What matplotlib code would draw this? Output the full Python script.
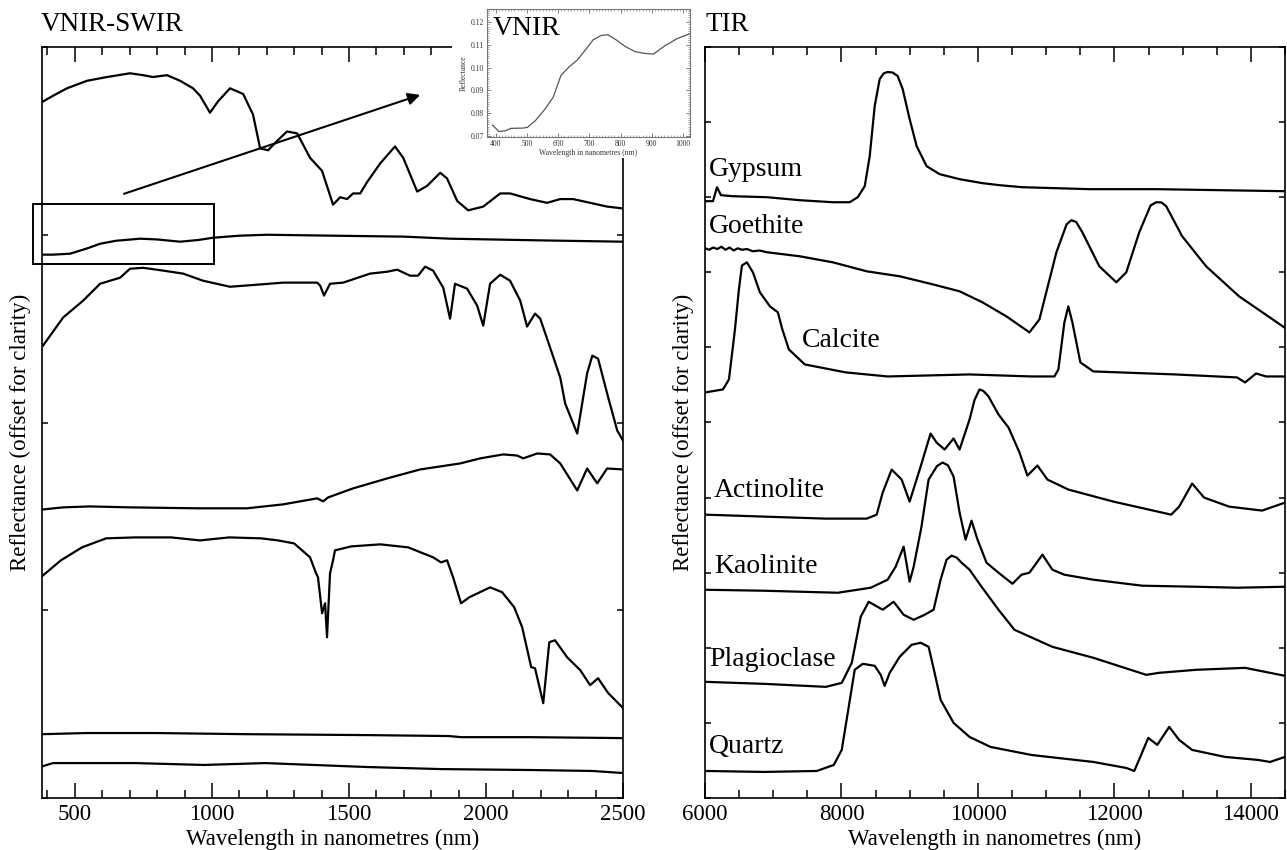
import matplotlib
matplotlib.use('Agg')
import matplotlib.pyplot as plt
from matplotlib.ticker import MultipleLocator, FixedLocator, FormatStrFormatter
from matplotlib.patches import Rectangle

plt.rcParams['font.family'] = ['Liberation Serif', 'DejaVu Serif']

# ---------------- data: VNIR-SWIR panel (wavelength nm, offset reflectance) ----------------
swir1_wl = [384, 420, 471, 544, 617, 701, 749, 785, 836, 884, 931, 957, 993, 1022, 1066, 1114, 1150, 1176,
            1205, 1238, 1274, 1311, 1358, 1402, 1442, 1468, 1493, 1515, 1541, 1566, 1614, 1668, 1698, 1749,
            1785, 1833, 1858, 1895, 1935, 1990, 2052, 2088, 2161, 2223, 2271, 2318, 2380, 2442, 2500]
swir1_r = [3.71, 3.74, 3.78, 3.82, 3.84, 3.86, 3.85, 3.84, 3.85, 3.82, 3.78, 3.74, 3.65, 3.71, 3.78, 3.75,
           3.64, 3.46, 3.45, 3.50, 3.55, 3.54, 3.41, 3.34, 3.16, 3.20, 3.19, 3.22, 3.22, 3.28, 3.38, 3.47,
           3.41, 3.23, 3.26, 3.33, 3.30, 3.18, 3.13, 3.15, 3.22, 3.22, 3.19, 3.17, 3.19, 3.19, 3.17, 3.15, 3.14]

swir2_wl = [384, 420, 482, 540, 592, 650, 738, 800, 884, 950, 1004, 1100, 1201, 1442, 1700, 1869, 2200, 2500]
swir2_r = [2.894, 2.894, 2.899, 2.925, 2.952, 2.968, 2.979, 2.975, 2.963, 2.972, 2.984, 2.995, 3.0, 2.995,
           2.99, 2.979, 2.97, 2.963]

swir3_wl = [384, 457, 530, 592, 628, 665, 701, 749, 822, 895, 968, 1066, 1165, 1260, 1384, 1395, 1409, 1431,
            1479, 1577, 1639, 1676, 1723, 1752, 1778, 1807, 1844, 1869, 1887, 1931, 1968, 1990, 2015, 2052,
            2088, 2125, 2150, 2179, 2198, 2234, 2271, 2289, 2333, 2369, 2388, 2409, 2446, 2479, 2500]
swir3_r = [2.410, 2.559, 2.649, 2.739, 2.755, 2.771, 2.819, 2.824, 2.809, 2.793, 2.755, 2.723, 2.734, 2.745,
           2.745, 2.729, 2.676, 2.739, 2.745, 2.793, 2.803, 2.814, 2.782, 2.782, 2.830, 2.809, 2.718, 2.553,
           2.739, 2.713, 2.622, 2.516, 2.739, 2.787, 2.755, 2.649, 2.511, 2.580, 2.553, 2.399, 2.239, 2.101,
           1.941, 2.261, 2.356, 2.340, 2.133, 1.957, 1.904]

swir4_wl = [384, 457, 555, 701, 946, 1128, 1260, 1384, 1406, 1424, 1515, 1639, 1760, 1906, 1979, 2063, 2114,
            2136, 2187, 2234, 2271, 2333, 2369, 2406, 2442, 2500]
swir4_r = [1.537, 1.548, 1.553, 1.548, 1.543, 1.543, 1.564, 1.596, 1.580, 1.601, 1.649, 1.702, 1.750, 1.782,
           1.809, 1.830, 1.824, 1.809, 1.835, 1.830, 1.782, 1.638, 1.755, 1.676, 1.755, 1.750]

swir5_wl = [384, 449, 526, 614, 719, 851, 957, 1063, 1179, 1241, 1300, 1358, 1380, 1387, 1402, 1413, 1420,
            1431, 1442, 1449, 1508, 1614, 1716, 1807, 1836, 1858, 1880, 1909, 1939, 2015, 2059, 2103, 2132,
            2165, 2179, 2209, 2231, 2252, 2296, 2344, 2380, 2409, 2446, 2500]
swir5_r = [1.186, 1.266, 1.335, 1.383, 1.388, 1.388, 1.372, 1.388, 1.383, 1.372, 1.356, 1.282, 1.197, 1.176,
           0.984, 1.037, 0.856, 1.197, 1.266, 1.319, 1.340, 1.351, 1.335, 1.282, 1.255, 1.266, 1.176, 1.037,
           1.069, 1.122, 1.096, 1.016, 0.910, 0.697, 0.691, 0.505, 0.830, 0.840, 0.750, 0.681, 0.601, 0.638,
           0.559, 0.479]

swir6_wl = [384, 541, 793, 1121, 1566, 1865, 1909, 2165, 2500]
swir6_r = [0.340, 0.346, 0.346, 0.340, 0.335, 0.330, 0.324, 0.324, 0.319]

swir7_wl = [384, 420, 719, 971, 1194, 1566, 1836, 2165, 2388, 2500]
swir7_r = [0.170, 0.186, 0.186, 0.176, 0.186, 0.165, 0.154, 0.149, 0.144, 0.133]

# ---------------- data: VNIR inset ----------------
vnir_wl = [390, 410, 430, 449, 486, 501, 527, 558, 584, 609, 635, 661, 687, 712, 738, 759, 785, 815, 846,
           877, 905, 942, 981, 1022]
vnir_r = [0.0747, 0.0719, 0.0722, 0.0733, 0.0734, 0.0737, 0.0767, 0.0818, 0.0870, 0.0966, 0.1003, 0.1033,
          0.1077, 0.1122, 0.1141, 0.1144, 0.1122, 0.1092, 0.1070, 0.1062, 0.1059, 0.1096, 0.1127, 0.1149]

# ---------------- data: TIR panel ----------------
tir_names = ['Gypsum', 'Goethite', 'Calcite', 'Actinolite', 'Kaolinite', 'Plagioclase', 'Quartz']
tir_label_wl = [6060, 6060, 7419, 6130, 6130, 6060, 6060]
tir_label_y = [8.28, 7.52, 6.0, 4.01, 3.0, 1.76, 0.6]

gyp_wl = [6000, 6117, 6176, 6234, 6410, 6907, 7390, 7873, 8121, 8238, 8341, 8414, 8487, 8560, 8620, 8677,
          8750, 8824, 8897, 8999, 9102, 9248, 9438, 9731, 10067, 10316, 10652, 11633, 12613, 13578, 14500]
gyp_r = [7.947, 7.947, 8.133, 8.027, 8.013, 8.0, 7.96, 7.933, 7.933, 8.0, 8.147, 8.547, 9.213, 9.573, 9.65,
         9.667, 9.66, 9.613, 9.44, 9.04, 8.68, 8.413, 8.307, 8.24, 8.187, 8.16, 8.133, 8.107, 8.107, 8.093, 8.08]

goe_wl = [6000, 6060, 6120, 6180, 6240, 6300, 6360, 6420, 6480, 6540, 6614, 6700, 6800, 6907, 7390, 7873,
          8371, 8853, 9336, 9731, 10067, 10316, 10418, 10755, 10901, 11150, 11300, 11369, 11440, 11530, 11779,
          12028, 12174, 12364, 12530, 12613, 12690, 12759, 12993, 13344, 13827, 14500]
goe_r = [7.32, 7.30, 7.33, 7.31, 7.34, 7.30, 7.33, 7.29, 7.32, 7.30, 7.31, 7.28, 7.29, 7.267, 7.213, 7.133,
         7.013, 6.947, 6.84, 6.747, 6.6, 6.467, 6.413, 6.2, 6.373, 7.267, 7.64, 7.693, 7.67, 7.533, 7.08,
         6.867, 7.0, 7.533, 7.89, 7.933, 7.93, 7.88, 7.48, 7.08, 6.68, 6.26]

cal_wl = [6000, 6263, 6351, 6439, 6497, 6541, 6614, 6702, 6805, 6951, 7068, 7130, 7229, 7463, 8063, 8677,
          9877, 10784, 11121, 11179, 11267, 11325, 11384, 11501, 11691, 12891, 13798, 13915, 14076, 14222, 14500]
cal_r = [5.40, 5.44, 5.573, 6.24, 6.773, 7.09, 7.133, 7.0, 6.733, 6.547, 6.467, 6.25, 5.973, 5.773, 5.667,
         5.613, 5.64, 5.613, 5.613, 5.707, 6.333, 6.547, 6.333, 5.8, 5.68, 5.64, 5.6, 5.533, 5.653, 5.613, 5.613]

act_wl = [6000, 6863, 7770, 8370, 8516, 8604, 8736, 8882, 8999, 9160, 9306, 9394, 9511, 9643, 9731, 9877,
          9950, 10023, 10080, 10155, 10301, 10448, 10609, 10725, 10872, 11018, 11325, 11984, 12832, 12949,
          13139, 13315, 13681, 14164, 14500]
act_r = [3.773, 3.747, 3.72, 3.72, 3.773, 4.067, 4.373, 4.24, 3.947, 4.413, 4.853, 4.733, 4.64, 4.787, 4.64,
         5.04, 5.30, 5.44, 5.42, 5.347, 5.107, 4.933, 4.6, 4.293, 4.427, 4.24, 4.107, 3.947, 3.773, 3.88,
         4.187, 4.0, 3.88, 3.827, 3.933]

kao_wl = [6000, 6863, 7946, 8429, 8677, 8794, 8911, 8999, 9058, 9170, 9277, 9400, 9482, 9560, 9643, 9731,
          9819, 9906, 9994, 10126, 10301, 10506, 10638, 10755, 10945, 11091, 11267, 11691, 12408, 13198, 13798,
          14500]
kao_r = [2.773, 2.76, 2.733, 2.8, 2.907, 3.08, 3.347, 2.88, 3.08, 3.6, 4.24, 4.42, 4.467, 4.43, 4.28, 3.8,
         3.44, 3.693, 3.44, 3.133, 3.0, 2.853, 2.973, 3.0, 3.24, 3.04, 2.973, 2.907, 2.827, 2.813, 2.8, 2.813]

pla_wl = [6000, 6863, 7770, 8004, 8151, 8282, 8399, 8604, 8765, 8911, 9058, 9219, 9350, 9453, 9540, 9614,
          9690, 9760, 9877, 10053, 10301, 10535, 11091, 11691, 12466, 12657, 13198, 13915, 14500]
pla_r = [1.547, 1.52, 1.48, 1.533, 1.8, 2.413, 2.613, 2.507, 2.613, 2.44, 2.373, 2.44, 2.507, 2.907, 3.173,
         3.227, 3.20, 3.133, 3.04, 2.813, 2.507, 2.24, 2.013, 1.867, 1.64, 1.667, 1.707, 1.733, 1.627]

qtz_wl = [6000, 6863, 7639, 7887, 8004, 8092, 8194, 8312, 8487, 8575, 8633, 8707, 8853, 9028, 9160, 9277,
          9365, 9453, 9643, 9877, 10184, 10784, 11691, 12174, 12291, 12379, 12496, 12628, 12803, 12949, 13139,
          13622, 14105, 14281, 14500]
qtz_r = [0.36, 0.347, 0.36, 0.44, 0.64, 1.133, 1.707, 1.787, 1.76, 1.64, 1.493, 1.667, 1.88, 2.04, 2.067,
         2.013, 1.667, 1.307, 1.0, 0.813, 0.68, 0.573, 0.48, 0.4, 0.36, 0.547, 0.8, 0.707, 0.947, 0.773, 0.64,
         0.547, 0.507, 0.48, 0.547]

swir_xticks = [500, 1000, 1500, 2000, 2500]
tir_xticks = [6000, 8000, 10000, 12000, 14000]

# ---------------- figure ----------------
W, H = 1287, 850
fig = plt.figure(figsize=(W / 100, H / 100), dpi=100)


def fx(px):
    return px / W


def fy(py):
    return 1 - py / H


axL = fig.add_axes([fx(42), fy(798), fx(623) - fx(42), fy(47) - fy(798)])
axR = fig.add_axes([fx(705), fy(798), fx(1285) - fx(705), fy(47) - fy(798)])

lw = 1.6
for wl, r in [(swir1_wl, swir1_r), (swir2_wl, swir2_r), (swir3_wl, swir3_r), (swir4_wl, swir4_r),
              (swir5_wl, swir5_r), (swir6_wl, swir6_r), (swir7_wl, swir7_r)]:
    axL.plot(wl, r, color='black', lw=lw, solid_joinstyle='round')

for wl, r in [(gyp_wl, gyp_r), (goe_wl, goe_r), (cal_wl, cal_r), (act_wl, act_r),
              (kao_wl, kao_r), (pla_wl, pla_r), (qtz_wl, qtz_r)]:
    axR.plot(wl, r, color='black', lw=lw, solid_joinstyle='round')

for name, x, y in zip(tir_names, tir_label_wl, tir_label_y):
    axR.text(x, y, name, fontsize=20, ha='left', va='baseline')

axL.set_xlim(380, 2500)
axL.set_ylim(0, 4)
axL.xaxis.set_major_locator(FixedLocator(swir_xticks))
axL.xaxis.set_minor_locator(MultipleLocator(100))
axL.yaxis.set_major_locator(MultipleLocator(1))

axR.set_xlim(6000, 14500)
axR.set_ylim(0, 10)
axR.xaxis.set_major_locator(FixedLocator(tir_xticks))
axR.xaxis.set_minor_locator(MultipleLocator(500))
axR.yaxis.set_major_locator(MultipleLocator(1))

for ax in (axL, axR):
    ax.tick_params(axis='x', which='major', direction='in', length=11, width=1.1, top=True, bottom=True,
                   labelsize=16.5, pad=4)
    ax.tick_params(axis='x', which='minor', direction='in', length=5.5, width=1.1, top=True, bottom=True)
    ax.tick_params(axis='y', which='major', direction='in', length=4.5, width=1.1, left=True, right=True,
                   labelleft=False)
    for s in ax.spines.values():
        s.set_linewidth(1.2)
    ax.set_xlabel('Wavelength in nanometres (nm)', fontsize=16.5, labelpad=3)
    ax.set_ylabel('Reflectance (offset for clarity)', fontsize=16.5)
    ax.yaxis.set_label_coords(-0.019, 0.487)

# box and arrow in the VNIR-SWIR panel
axL.add_patch(Rectangle((347, 2.846), 1008 - 347, 3.165 - 2.846, fill=False, lw=1.4,
                        edgecolor='black', clip_on=False))
axL.annotate('', xy=(1760, 3.745), xytext=(679, 3.218),
             arrowprops=dict(arrowstyle='-|>', color='black', lw=1.5, mutation_scale=18,
                             shrinkA=0, shrinkB=0))

fig.text(fx(41), fy(31), 'VNIR-SWIR', fontsize=19.5, ha='left', va='baseline')
fig.text(fx(705), fy(31), 'TIR', fontsize=19.5, ha='left', va='baseline')

# white patch behind inset
fig.add_artist(Rectangle((fx(452), fy(158)), fx(694) - fx(452), fy(0) - fy(158),
                         transform=fig.transFigure, facecolor='white', edgecolor='none', zorder=5))

axI = fig.add_axes([fx(487), fy(137), fx(690) - fx(487), fy(9) - fy(137)], zorder=6)
axI.plot(vnir_wl, vnir_r, color='#555555', lw=0.9)
axI.set_xlim(372, 1022)
axI.set_ylim(0.0695, 0.1257)
axI.xaxis.set_major_locator(MultipleLocator(100))
axI.xaxis.set_minor_locator(MultipleLocator(10))
axI.yaxis.set_major_locator(MultipleLocator(0.01))
axI.yaxis.set_minor_locator(MultipleLocator(0.001))
axI.yaxis.set_major_formatter(FormatStrFormatter('%.2f'))
axI.tick_params(which='major', direction='in', length=3, width=0.6, colors='#666666', labelsize=5.5,
                labelcolor='#333333', pad=2, top=True, right=True)
axI.tick_params(which='minor', direction='in', length=1.5, width=0.5, colors='#888888', top=True, right=True)
for s in axI.spines.values():
    s.set_linewidth(0.8)
    s.set_color('#777777')
axI.set_xlabel('Wavelength in nanometres (nm)', fontsize=5.5, labelpad=1, color='#333333')
axI.set_ylabel('Reflectance', fontsize=5.5, labelpad=2, color='#333333')
axI.text(0.03, 0.797, 'VNIR', transform=axI.transAxes, fontsize=20, ha='left', va='baseline')

fig.savefig('out.png', dpi=100)
